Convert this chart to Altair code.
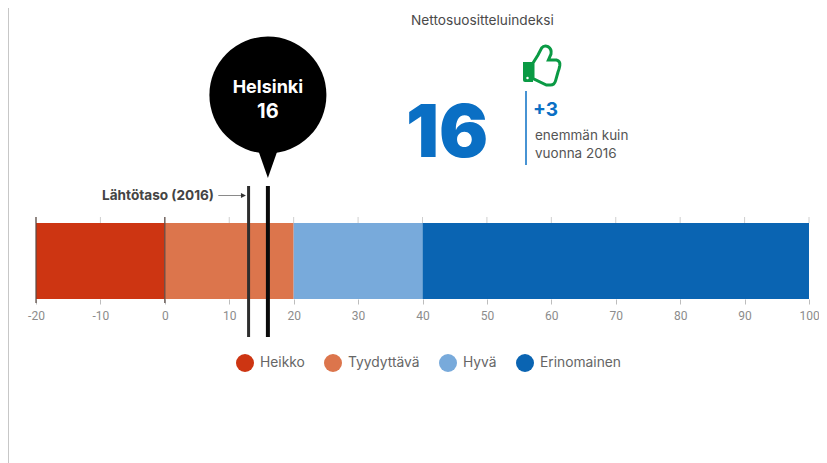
import altair as alt
import pandas as pd

# --- data ---
band_names = ["Heikko", "Tyydyttävä", "Hyvä", "Erinomainen"]
band_start = [-20, 0, 20, 40]
band_end = [0, 20, 40, 100]
band_colors = ["#cd3512", "#dc754c", "#78aadb", "#0a64b2"]
axis_ticks = [-20, -10, 0, 10, 20, 30, 40, 50, 60, 70, 80, 90, 100]
strong_ticks = [-20, 0]
baseline_value = 13
current_value = 16
city = "Helsinki"
header = "Nettosuositteluindeksi"
baseline_label = "Lähtötaso (2016)"
change_label = "+3"
change_line1 = "enemmän kuin"
change_line2 = "vuonna 2016"
arrow_from = 8.3
arrow_to = 12.2

FONT = "Roboto"
FONT2 = "Inter"
W, H = 811, 455
px = lambda v: v - 8

x_scale = alt.Scale(domain=[-20, 100], range=[px(36), px(809)], nice=False, zero=False)
x_axis = alt.Axis(orient="bottom", offset=px(299) - H, values=axis_ticks, domain=False,
                  grid=False, tickColor="#bdbdbd", tickSize=5, tickWidth=1,
                  labelColor="#8c8c8c", labelFont=FONT, labelFontSize=12,
                  labelExpr="'' + datum.value", labelPadding=6, labelFlush=False, title=None)
X = lambda f: alt.X(f, type="quantitative", scale=x_scale, axis=x_axis, title=None)

bands = pd.DataFrame({"name": band_names, "start": band_start, "end": band_end})

bar = alt.Chart(bands).mark_bar(opacity=1).encode(
    x=X("start"),
    x2="end:Q",
    y=alt.value(px(223)),
    y2=alt.value(px(299)),
    color=alt.Color("name:N", sort=band_names,
                    scale=alt.Scale(domain=band_names, range=band_colors),
                    legend=alt.Legend(orient="none", legendX=px(236), legendY=px(354), direction="horizontal",
                                      columns=4, title=None, symbolType="circle", symbolSize=324,
                                      symbolStrokeWidth=0, labelFont=FONT2, labelFontSize=13.8,
                                      labelColor="#666666", labelOffset=6, columnPadding=19)),
)

top_ticks = alt.Chart(pd.DataFrame({"t": axis_ticks})).mark_rule(color="#cfcfcf", strokeWidth=1).encode(
    x=X("t"), y=alt.value(px(217)), y2=alt.value(px(223)))

strong = alt.Chart(pd.DataFrame({"t": strong_ticks})).mark_rule(color="#5a4a44", strokeWidth=1.2).encode(
    x=X("t"), y=alt.value(px(217)), y2=alt.value(px(303)))

base_line = alt.Chart(pd.DataFrame({"v": [baseline_value]})).mark_rule(color="#2e2e2e", strokeWidth=3).encode(
    x=X("v"), y=alt.value(px(186)), y2=alt.value(px(337)))
cur_line = alt.Chart(pd.DataFrame({"v": [current_value]})).mark_rule(color="#0a0a0a", strokeWidth=4).encode(
    x=X("v"), y=alt.value(px(186)), y2=alt.value(px(337)))

bubble = alt.Chart(pd.DataFrame({"v": [current_value]})).mark_point(
    shape="circle", filled=True, color="#000000", opacity=1, size=13690).encode(
    x=X("v"), y=alt.value(px(95)))
pointer = alt.Chart(pd.DataFrame({"v": [current_value]})).mark_point(
    shape="M-0.7,-1L0.7,-1L0,1Z", filled=True, color="#000000", opacity=1, size=784).encode(
    x=X("v"), y=alt.value(px(164)))

def text(value, x, y, size, color, weight="normal", align="left", font=FONT2):
    return alt.Chart(pd.DataFrame({"t": [value]})).mark_text(
        font=font, fontSize=size, color=color, fontWeight=weight, align=align, baseline="alphabetic"
    ).encode(text="t:N", x=alt.value(px(x)), y=alt.value(px(y)))

city_t = alt.Chart(pd.DataFrame({"v": [current_value], "t": [city]})).mark_text(
    font=FONT2, fontSize=18, fontWeight="bold", color="white", baseline="alphabetic").encode(
    x=X("v"), y=alt.value(px(93)), text="t:N")
val_t = alt.Chart(pd.DataFrame({"v": [current_value], "t": [str(current_value)]})).mark_text(
    font=FONT2, fontSize=20, fontWeight="bold", color="white", baseline="alphabetic").encode(
    x=X("v"), y=alt.value(px(118)), text="t:N")

arrow = alt.Chart(pd.DataFrame({"a": [arrow_from], "b": [arrow_to]})).mark_rule(color="#8a8a8a", strokeWidth=1).encode(
    x=X("a"), x2="b:Q", y=alt.value(px(195.5)))
arrow_head = alt.Chart(pd.DataFrame({"b": [arrow_to]})).mark_point(
    shape="M-1,-1L1,0L-1,1Z", filled=True, color="#333333", opacity=1, size=25).encode(
    x=X("b"), y=alt.value(px(195.5)))

big = text(str(current_value), 406, 157, 73, "#0a6fc4", weight=900)
divider = alt.Chart(pd.DataFrame({"a": [1]})).mark_rule(color="#0a6fc4", strokeWidth=1.5).encode(
    x=alt.value(px(526)), y=alt.value(px(91)), y2=alt.value(px(165)))

GREEN = "#0a9a44"
thumb_outline = alt.Chart(pd.DataFrame({"a": [1]})).mark_point(
    shape="M-0.45,-0.1L-0.2,-0.5L-0.02,-0.85Q0.1,-1 0.3,-0.92Q0.5,-0.8 0.45,-0.55L0.32,-0.25L0.72,-0.25Q0.92,-0.2 0.89,0.02Q0.86,0.2 0.8,0.35L0.68,0.78Q0.62,1 0.42,1L0.22,1L-0.45,0.68Z",
    filled=False, color=GREEN, strokeWidth=3, opacity=1, size=1600).encode(
    x=alt.value(px(542)), y=alt.value(px(65)))
thumb_cuff = alt.Chart(pd.DataFrame({"a": [1]})).mark_point(
    shape="M-0.95,-0.15L-0.45,-0.15L-0.45,0.85L-0.85,0.85Q-0.95,0.85 -0.95,0.75Z",
    filled=True, color=GREEN, opacity=1, size=1600).encode(
    x=alt.value(px(542)), y=alt.value(px(65)))
thumb_dot = alt.Chart(pd.DataFrame({"a": [1]})).mark_point(
    shape="circle", filled=True, color="white", opacity=1, size=6).encode(
    x=alt.value(px(527.5)), y=alt.value(px(78)))

frame = alt.Chart(pd.DataFrame({"a": [1]})).mark_rule(color="#b4b4b4", strokeWidth=1.5).encode(
    x=alt.value(0), y=alt.value(-8), y2=alt.value(H))

chart = alt.layer(
    frame, bar, top_ticks, strong, base_line, cur_line, bubble, pointer, city_t, val_t,
    text(baseline_label, 214, 199.5, 13.6, "#444444", weight="bold", align="right"),
    arrow, arrow_head,
    text(header, 411, 25, 13.7, "#4a4a4a"),
    big, divider,
    thumb_outline, thumb_cuff, thumb_dot,
    text(change_label, 533, 116, 19, "#0a6fc4", weight="bold"),
    text(change_line1, 535, 140, 13.5, "#555555"),
    text(change_line2, 535, 158, 13.5, "#555555"),
).properties(
    width=W, height=H, padding=0, background="white",
    autosize=alt.AutoSizeParams(type="none"),
).configure_view(stroke=None)

chart.save("out.html", embed_options={"renderer": "svg", "actions": False})
